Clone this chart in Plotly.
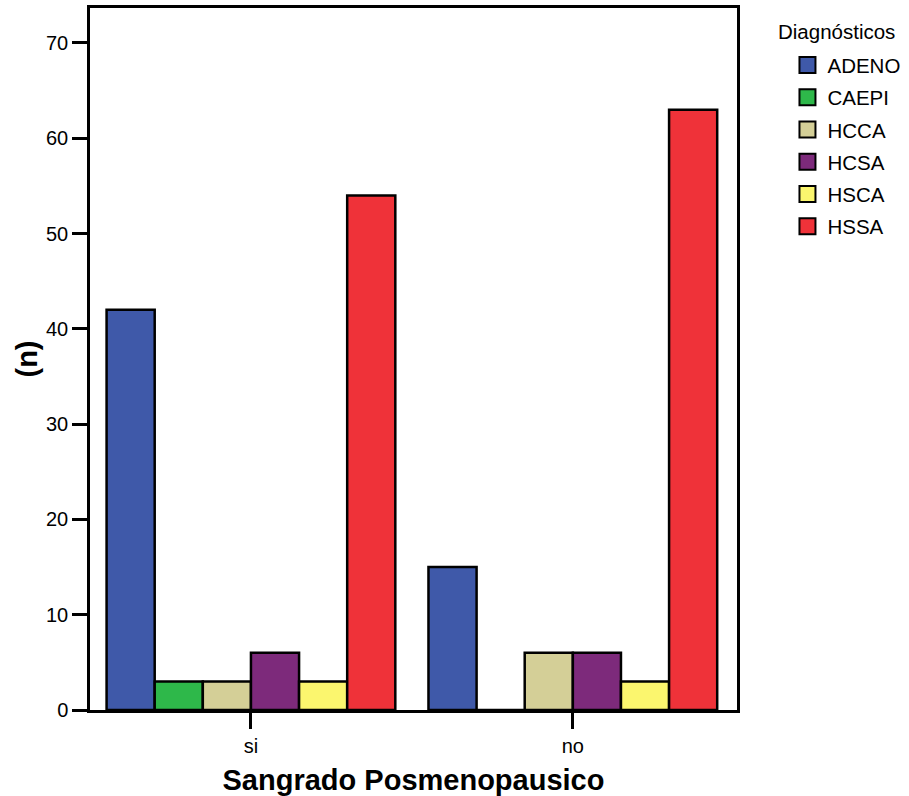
import plotly.graph_objects as go

categories = ["si", "no"]
diagnosticos = ["ADENO", "CAEPI", "HCCA", "HCSA", "HSCA", "HSSA"]
values_si = [42, 3, 3, 6, 3, 54]
values_no = [15, 0, 6, 6, 3, 63]
colors = ["#3F59A9", "#2EB84A", "#D4CF97", "#7D2A7B", "#FBF66E", "#EF3239"]
legend_title = "Diagnósticos"

FONT = "Liberation Sans, Arial, Helvetica, sans-serif"

fig = go.Figure()
for i, name in enumerate(diagnosticos):
    fig.add_trace(go.Bar(
        x=categories,
        y=[values_si[i], values_no[i]],
        name=name,
        marker=dict(color=colors[i], line=dict(color="black", width=2.5)),
        showlegend=False,
    ))
for i, name in enumerate(diagnosticos):
    fig.add_trace(go.Scatter(
        x=[None], y=[None], mode="markers", name=name,
        legendgroup=name,
        marker=dict(symbol="square", size=16, color=colors[i],
                    line=dict(color="black", width=2)),
    ))

fig.add_annotation(
    text=legend_title, xref="paper", yref="paper",
    x=1.06, y=0.966, xanchor="left", yanchor="middle",
    showarrow=False, font=dict(size=20.5),
)

fig.update_layout(
    width=909, height=796,
    margin=dict(l=90, r=172, t=8, b=86, autoexpand=False),
    paper_bgcolor="white", plot_bgcolor="white",
    barmode="group", bargap=0.103, bargroupgap=0,
    font=dict(family=FONT, size=20, color="black"),
    legend=dict(
        x=1.078, y=0.947, xanchor="left", yanchor="top",
        traceorder="grouped", tracegroupgap=2.6,
        font=dict(size=20.5),
        bgcolor="rgba(0,0,0,0)",
    ),
    xaxis=dict(
        range=[-0.5, 1.51], automargin=False,
        showline=True, linecolor="black", linewidth=2.5, mirror=True,
        ticks="outside", ticklen=16, tickwidth=2.5, tickcolor="black",
        showgrid=False, zeroline=False,
        tickfont=dict(size=20),
        title=dict(text="<b>Sangrado Posmenopausico</b>", font=dict(size=29), standoff=14),
    ),
    yaxis=dict(
        range=[0, 73.67], automargin=False,
        tickvals=[0, 10, 20, 30, 40, 50, 60, 70],
        showline=True, linecolor="black", linewidth=2.5, mirror=True,
        ticks="outside", ticklen=15, tickwidth=2.5, tickcolor="black",
        showgrid=False, zeroline=False,
        tickfont=dict(size=20),
        title=dict(text="<b>(n)</b>", font=dict(size=29), standoff=0),
    ),
)

fig.write_html("out.html", config={"displayModeBar": False},
               post_script="document.body.style.margin='0';")
